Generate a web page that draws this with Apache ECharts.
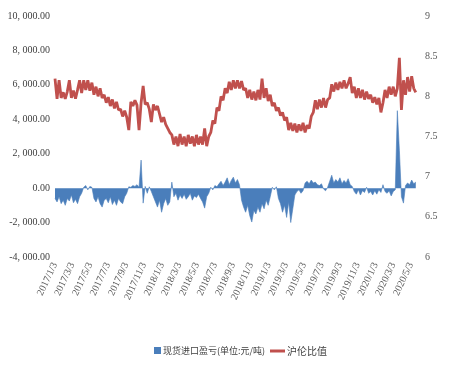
<!DOCTYPE html>
<html>
<head>
<meta charset="utf-8">
<script src="https://cdn.jsdelivr.net/npm/echarts@6/dist/echarts.min.js"></script>
<style>html,body{margin:0;padding:0;background:#fff}#c{width:474px;height:367px}</style>
</head>
<body>
<div id="c"></div>
<script>
// weekly samples starting 2017/1/3
const startDate = [2017, 0, 3];
const xTickLabels = ['2017/1/3','2017/3/3','2017/5/3','2017/7/3','2017/9/3','2017/11/3','2018/1/3','2018/3/3','2018/5/3','2018/7/3','2018/9/3','2018/11/3','2019/1/3','2019/3/3','2019/5/3','2019/7/3','2019/9/3','2019/11/3','2020/1/3','2020/3/3','2020/5/3'];
const leftTicks = [-4000, -2000, 0, 2000, 4000, 6000, 8000, 10000];
const rightTicks = [6, 6.5, 7, 7.5, 8, 8.5, 9];

// 现货进口盈亏 (元/吨)
const spread = [
 -600,-800,-500,-900,-700,-1000,-600,-750,-400,-850,-650,-900,-500,-300,
 50,150,-100,100,50,
 -600,-800,-500,-900,-1100,-700,-600,-850,-500,-950,-700,-1000,-600,-800,-900,-500,-300,
 80,50,150,100,200,50,
 1630,-870,
 100,-300,80,-200,
 -500,-800,-1100,-700,-1400,-900,-600,-1000,-800,
 350,
 -500,-300,-700,-400,-600,-350,-650,-500,-300,-700,-450,-550,-350,-600,-800,-1160,-500,-300,
 50,-100,150,80,
 250,400,150,350,600,200,450,640,300,500,200,
 -700,-1100,-1400,-1000,-1600,-1970,-1300,-1500,-1100,-1400,-900,-1200,-700,-1000,-500,
 50,-100,80,
 -600,-900,-1400,-1000,-1700,-800,
 -2000,-1200,-400,
 -200,-100,-300,-150,
 300,400,250,470,300,350,200,150,250,
 -50,-150,50,
 400,750,300,500,350,600,250,450,300,550,200,100,
 -200,-350,-100,-400,-150,-250,50,-300,-200,-400,-150,-350,-100,-250,200,-200,
 -300,-150,-450,-200,-100,
 4500,2200,-500,-870,150,
 300,200,470,250,350
];

// 沪伦比值
const ratio = [
 8.22,7.97,8.2,
 7.98,8.05,7.97,8.06,8.2,7.98,8.07,7.97,8.08,8.2,8.04,
 8.2,8.08,8.2,8.07,8.17,
 8.02,8.12,8.0,8.1,7.98,
 8.02,7.92,7.99,7.88,7.96,7.85,7.93,7.83,
 7.84,7.75,7.82,7.74,7.58,
 7.93,7.88,7.95,7.89,7.58,
 7.92,8.13,7.9,
 7.92,7.84,7.68,7.9,7.83,7.88,
 7.78,7.68,7.74,7.65,7.6,7.55,
 7.52,7.4,7.5,7.38,7.53,7.4,7.5,7.38,7.52,7.41,7.5,7.38,7.52,7.4,7.5,7.4,7.6,7.38,7.5,
 7.55,7.7,7.66,7.86,7.82,8.0,7.95,8.1,8.04,
 8.18,8.08,8.2,8.1,8.2,8.1,8.19,8.08,
 8.1,7.98,8.08,7.96,8.06,7.95,8.08,7.96,8.22,7.98,8.1,7.94,8.02,
 7.88,7.92,7.82,7.86,7.76,7.8,7.7,7.74,
 7.58,7.67,7.57,7.66,7.55,7.65,7.57,7.67,7.55,7.64,7.6,
 7.75,7.8,7.95,7.84,7.96,7.86,7.98,7.86,7.96,7.98,
 8.15,8.06,8.17,8.08,8.18,8.1,8.2,8.1,8.16,8.24,
 8.04,8.12,7.98,8.1,7.98,8.08,7.96,8.06,7.97,8.02,
 7.92,7.99,7.9,7.98,7.8,7.92,
 8.08,7.98,8.12,8.02,8.12,8.0,8.1,
 8.48,7.83,
 8.2,8.02,8.24,8.06,8.25,8.1,8.05
];

function dateAt(i){ return +new Date(startDate[0], startDate[1], startDate[2] + 7*i); }
function parseLabel(s){ const p = s.split('/').map(Number); return +new Date(p[0], p[1]-1, p[2]); }
const spreadData = spread.map((v,i)=>[dateAt(i), v]);
const ratioData = ratio.map((v,i)=>[dateAt(i), v]);
const tickPos = xTickLabels.map(parseLabel);

const font = "'Liberation Serif', 'Noto Sans CJK SC', serif";
const chart = echarts.init(document.getElementById('c'), null, {renderer:'canvas'});
chart.setOption({
  animation:false,
  backgroundColor:'#fff',
  grid:{left:55, right:55, top:16, bottom:110, containLabel:false},
  xAxis:{
    type:'value',
    min: tickPos[0],
    max: +new Date(2020,4,30),
    axisLine:{show:false},
    axisTick:{show:false},
    splitLine:{show:false},
    axisLabel:{
      customValues: tickPos,
      rotate:65, margin:6, fontSize:10, color:'#595959', fontFamily:font,
      formatter:function(v){ const d=new Date(v); return d.getFullYear()+'/'+(d.getMonth()+1)+'/'+d.getDate(); }
    }
  },
  yAxis:[{
    type:'value', min:leftTicks[0], max:leftTicks[leftTicks.length-1], interval:2000,
    axisLine:{show:false}, axisTick:{show:false}, splitLine:{show:false},
    axisLabel:{fontSize:10, color:'#404040', fontFamily:font, margin:5,
      formatter:function(v){ return v.toLocaleString('en-US',{minimumFractionDigits:2, maximumFractionDigits:2}).replace(/,/g, ', '); }}
  },{
    type:'value', min:rightTicks[0], max:rightTicks[rightTicks.length-1], interval:0.5,
    axisLine:{show:false}, axisTick:{show:false}, splitLine:{show:false},
    axisLabel:{fontSize:10, color:'#595959', fontFamily:font, margin:6}
  }],
  legend:[{
    data:[{name:'现货进口盈亏(单位:元/吨)', icon:'rect'}],
    left:149, top:341, itemWidth:7, itemHeight:7, itemGap:4,
    textStyle:{fontSize:9, color:'#404040', fontFamily:"'Noto Sans CJK SC', sans-serif", padding:[0,0,0,-3]}
  },{
    data:[{name:'沪伦比值', icon:'rect'}],
    left:265, top:341, itemWidth:15, itemHeight:3, itemGap:4,
    textStyle:{fontSize:10, color:'#404040', fontFamily:"'Noto Sans CJK SC', sans-serif", padding:[0,0,0,-3]}
  }],
  series:[{
    name:'现货进口盈亏(单位:元/吨)', type:'line', yAxisIndex:0, data:spreadData,
    showSymbol:false, symbol:'none',
    lineStyle:{width:0.6, color:'#4a7ebb'}, itemStyle:{color:'#4a7ebb'},
    areaStyle:{color:'#4a7ebb', opacity:1, origin:0}
  },{
    name:'沪伦比值', type:'line', yAxisIndex:1, data:ratioData,
    showSymbol:false, symbol:'none',
    lineStyle:{width:2.8, color:'#c0504d'}, itemStyle:{color:'#c0504d'}
  }]
});
</script>
</body>
</html>
